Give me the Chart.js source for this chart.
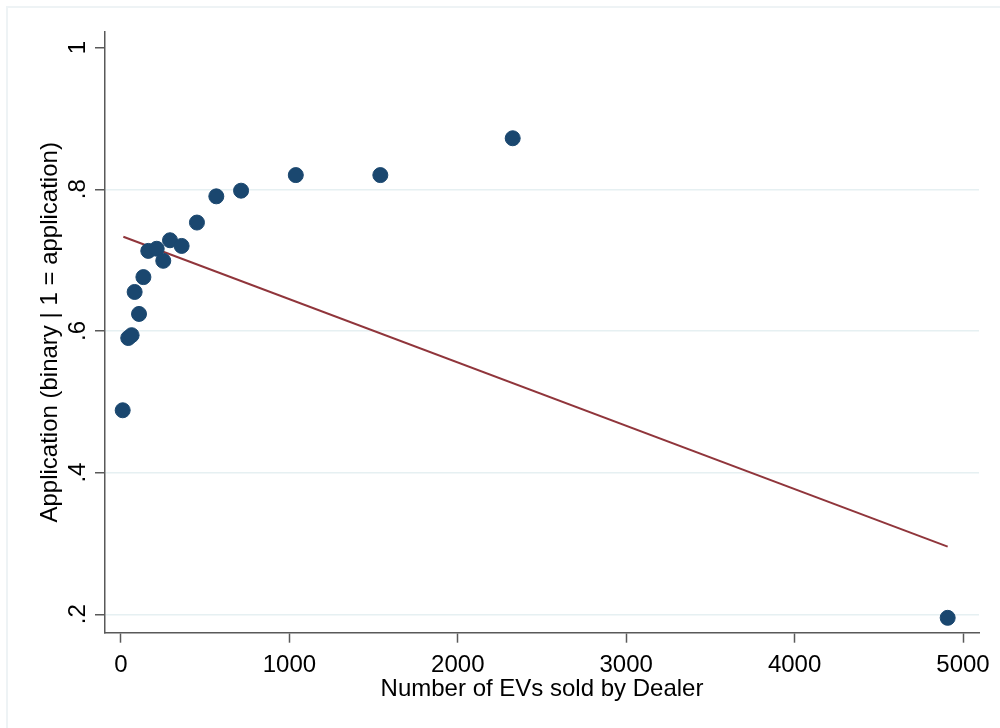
<!DOCTYPE html>
<html>
  <head>
    <script src="https://cdn.jsdelivr.net/npm/chart.js@4/dist/chart.umd.min.js"></script>
    <style>
      body { margin: 0; background: #fff; }
    </style>
  </head>

  <body>
    <canvas id="canvas" width="1000" height="728"></canvas>
    <script>
      // binned scatter: dealer EV sales vs share with an application
      const evsSold = [10, 43, 63, 81, 107, 133, 162, 212, 251, 291, 360, 451, 566, 713, 1038, 1540, 2326, 4909];
      const applicationShare = [0.488, 0.590, 0.594, 0.655, 0.624, 0.676, 0.713, 0.716, 0.699, 0.728, 0.720, 0.753, 0.790, 0.798, 0.820, 0.820, 0.872, 0.195];

      // linear fit line end points
      const fitX = [14, 4909];
      const fitY = [0.733, 0.2956];

      const xTicks = [0, 1000, 2000, 3000, 4000, 5000];
      const xTickLabels = ['0', '1000', '2000', '3000', '4000', '5000'];
      const yTicks = [0.2, 0.4, 0.6, 0.8, 1];
      const yTickLabels = ['.2', '.4', '.6', '.8', '1'];

      const FONT = 'Liberation Sans, Arial, sans-serif';
      const axisGray = '#595959';

      const frame = {
        id: 'frame',
        beforeDraw(chart) {
          const ctx = chart.ctx;
          ctx.save();
          ctx.fillStyle = '#eef3f5';
          ctx.fillRect(6, 6, 994, 2);
          ctx.fillRect(6, 6, 2, 722);
          ctx.restore();
        },
      };

      // Stata-style y tick labels, turned to read upwards
      const yLabels = {
        id: 'yLabels',
        afterDraw(chart) {
          const ctx = chart.ctx;
          const y = chart.scales.y;
          ctx.save();
          ctx.fillStyle = '#000';
          ctx.font = '24px ' + FONT;
          ctx.textAlign = 'center';
          ctx.textBaseline = 'alphabetic';
          yTicks.forEach((v, i) => {
            ctx.save();
            ctx.translate(85, y.getPixelForValue(v));
            ctx.rotate(-Math.PI / 2);
            ctx.fillText(yTickLabels[i], 0, 0);
            ctx.restore();
          });
          ctx.restore();
        },
      };

      new Chart(document.getElementById('canvas').getContext('2d'), {
        type: 'scatter',
        data: {
          datasets: [
            {
              label: 'bins',
              data: evsSold.map((x, i) => ({ x: x, y: applicationShare[i] })),
              backgroundColor: '#1a476f',
              borderColor: '#1a476f',
              pointRadius: 7.5,
              pointHoverRadius: 7.5,
            },
            {
              type: 'line',
              label: 'fit',
              data: fitX.map((x, i) => ({ x: x, y: fitY[i] })),
              borderColor: '#90353b',
              borderWidth: 2,
              pointRadius: 0,
              fill: false,
            },
          ],
        },
        options: {
          responsive: false,
          animation: false,
          events: [],
          layout: {
            padding: { top: 32, right: 21, left: 0, bottom: 0 },
          },
          plugins: {
            legend: { display: false },
            tooltip: { enabled: false },
          },
          scales: {
            x: {
              type: 'linear',
              min: -95,
              max: 5095,
              afterFit: (s) => { s.height = 95.3; },
              afterBuildTicks: (s) => { s.ticks = xTicks.map((v) => ({ value: v })); },
              border: { color: axisGray, width: 1.5 },
              grid: {
                drawOnChartArea: false,
                tickLength: 10,
                tickColor: axisGray,
                tickWidth: 1.5,
              },
              ticks: {
                color: '#000',
                padding: 8,
                maxRotation: 0,
                font: { family: FONT, size: 24 },
                callback: (v) => xTickLabels[xTicks.indexOf(v)],
              },
              title: {
                display: true,
                text: 'Number of EVs sold by Dealer',
                color: '#000',
                font: { family: FONT, size: 24 },
                padding: { top: 0, bottom: 24 },
              },
            },
            y: {
              type: 'linear',
              min: 0.174,
              max: 1.022,
              afterFit: (s) => { s.width = 105; },
              afterBuildTicks: (s) => { s.ticks = yTicks.map((v) => ({ value: v })); },
              border: { color: axisGray, width: 1.5 },
              grid: {
                color: (c) => (c.tick && c.tick.value === 1 ? 'rgba(0,0,0,0)' : '#e6f0f2'),
                lineWidth: 1.5,
                tickLength: 10,
                tickColor: axisGray,
                tickWidth: 1.5,
              },
              ticks: { display: false },
              title: {
                display: true,
                text: 'Application (binary | 1 = application)',
                color: '#000',
                font: { family: FONT, size: 24 },
                padding: { top: 36, bottom: 0 },
              },
            },
          },
        },
        plugins: [frame, yLabels],
      });
    </script>
  </body>
</html>
